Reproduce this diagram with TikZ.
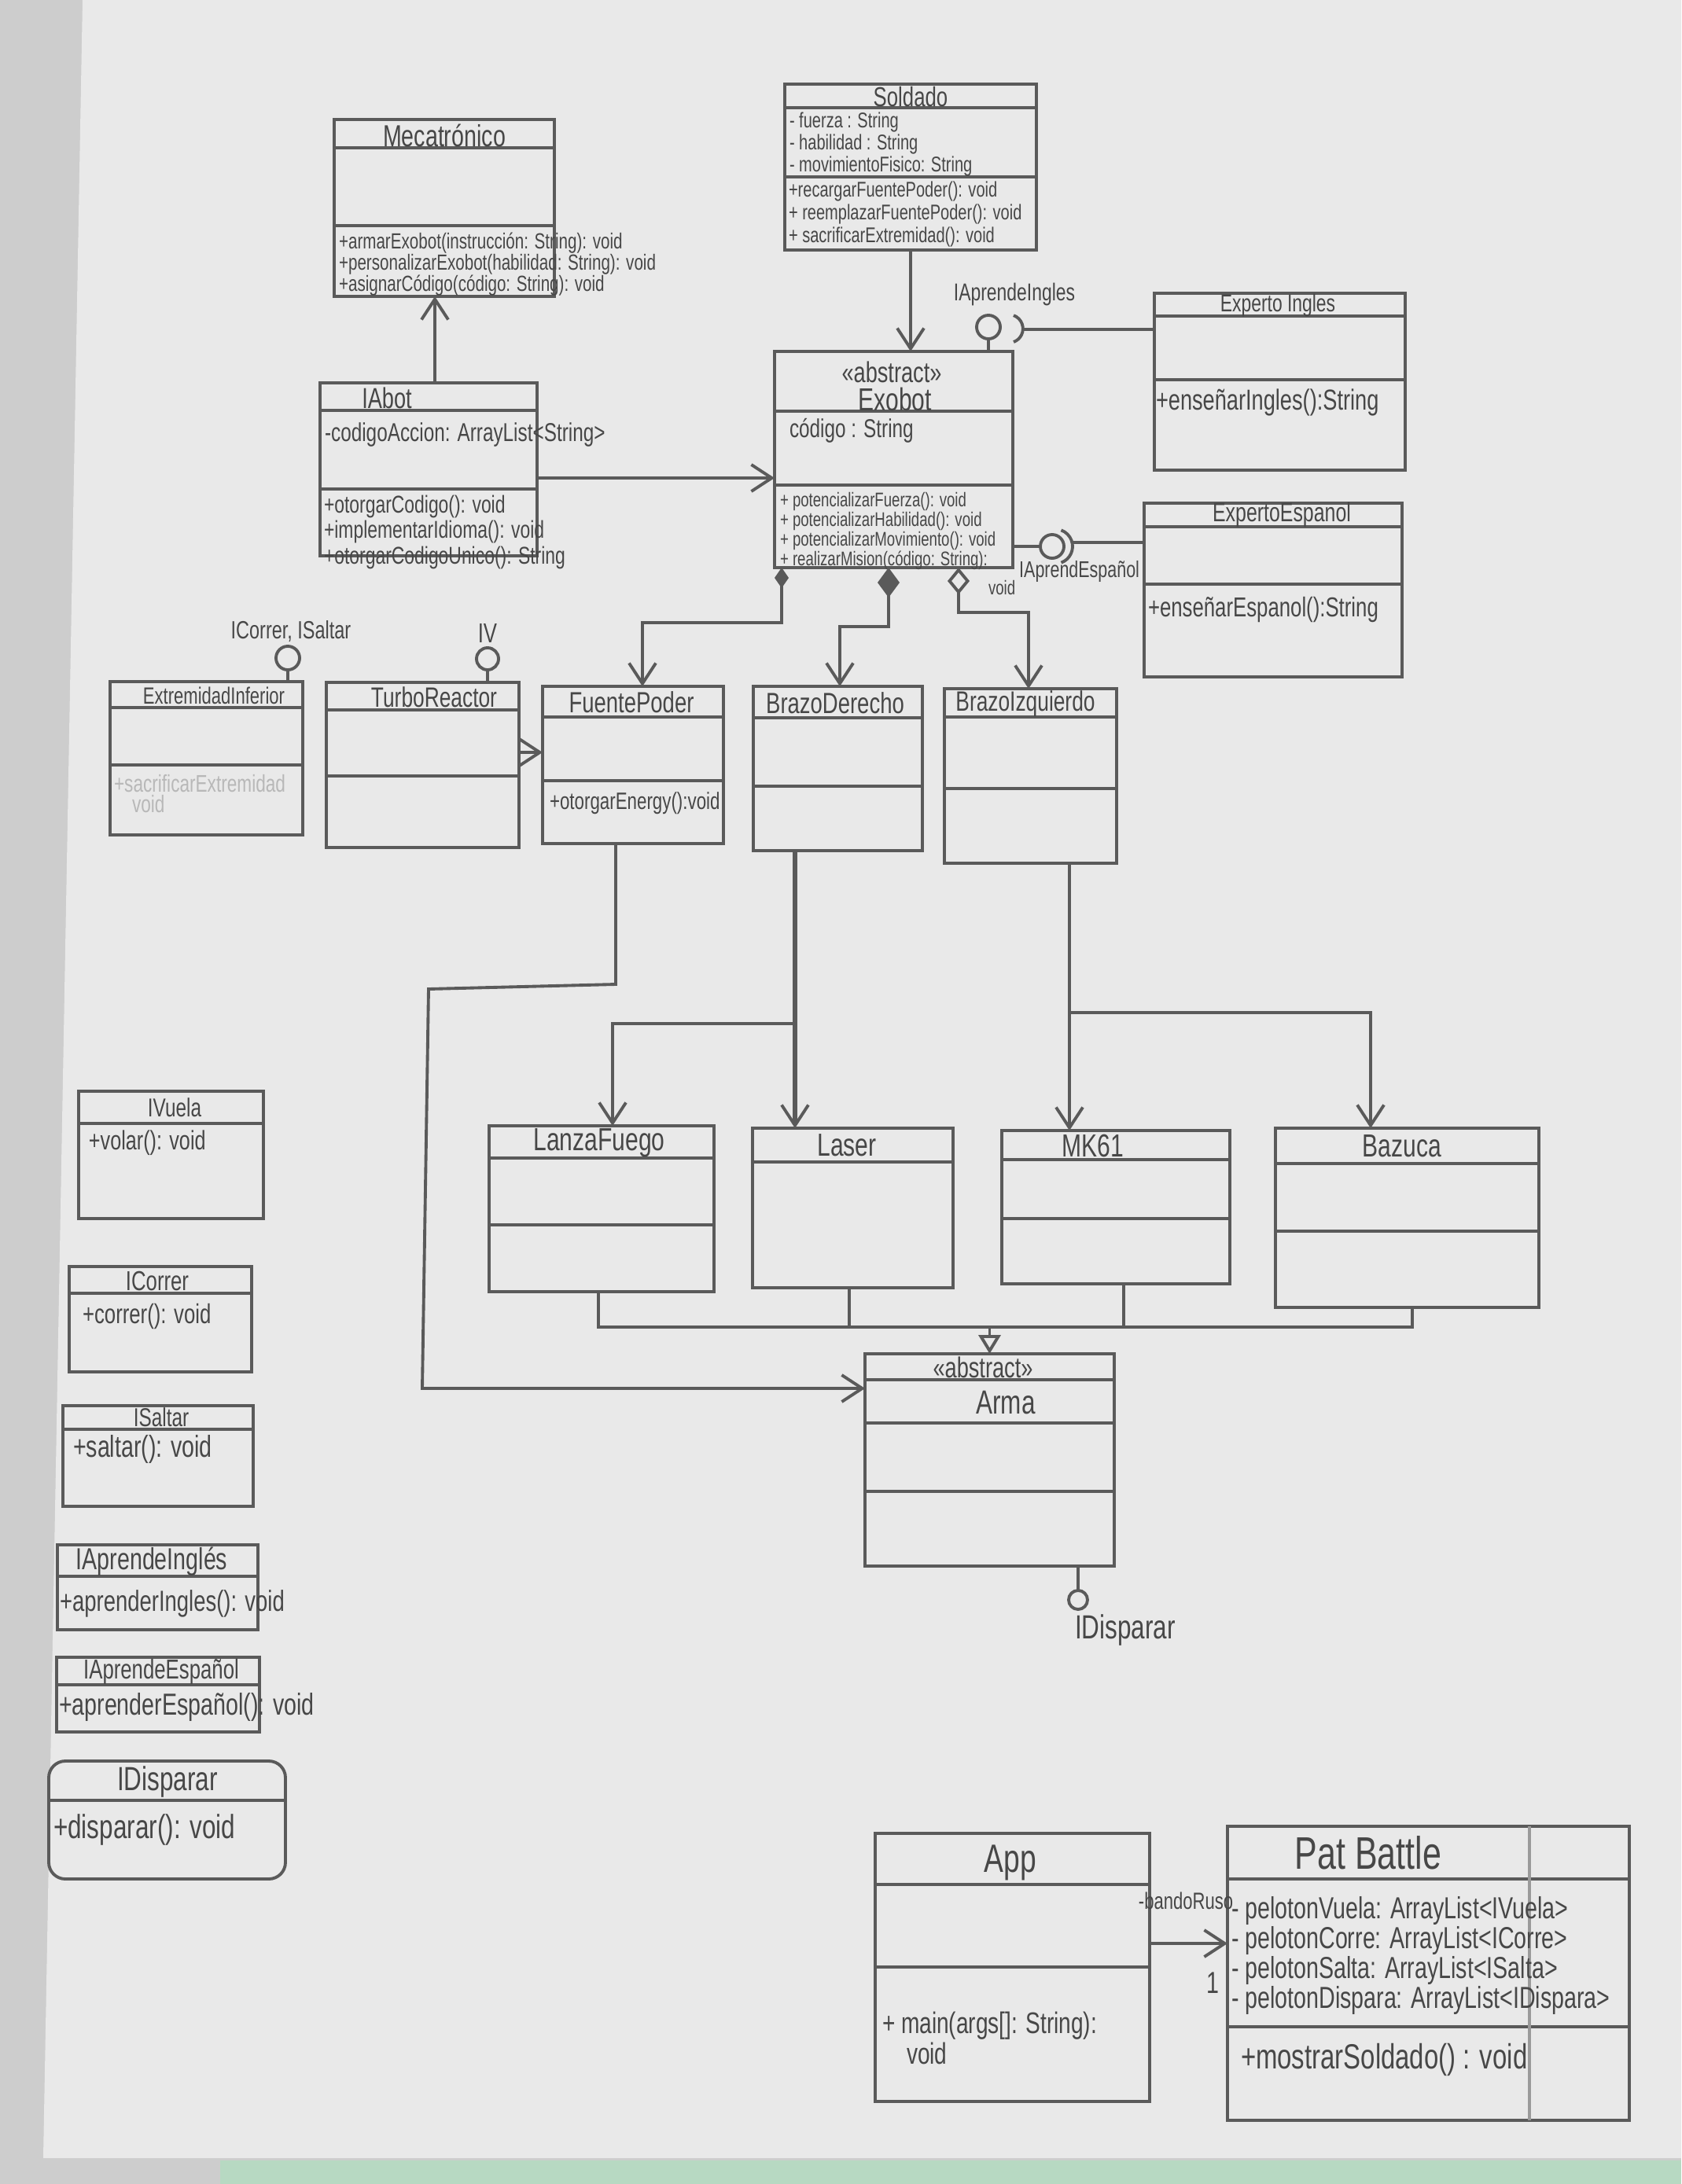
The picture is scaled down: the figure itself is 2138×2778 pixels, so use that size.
\documentclass[tikz,border=0pt]{standalone}
\usepackage{fontspec}
\setmainfont{Liberation Sans}[FakeStretch=0.74]
\usetikzlibrary{arrows.meta}
\definecolor{pencil}{HTML}{5A5A5A}
\definecolor{ink}{HTML}{474747}
\definecolor{paper}{HTML}{E9E9E9}
\definecolor{edge}{HTML}{CDCDCD}
\definecolor{mint}{HTML}{B7D9C2}
\newcommand\myfs[2]{\fontsize{\fpeval{1.1*#1}}{#2}\selectfont}
\newcommand\umlbox[6][]{\node[box,#1,minimum width={(#5-#3)*0.01cm},minimum height={(#6-#4)*0.01cm}] (#2) at (#3,#4) {};}
\newcommand\compline[2]{\draw[ln] (#1.west |- 0,#2) -- (#1.east |- 0,#2);}
\begin{document}
\begin{tikzpicture}[x=0.01cm,y=-0.01cm,
  ln/.style={draw=pencil,line width=1.1pt},
  box/.style={ln,rectangle,inner sep=0pt,outer sep=0pt,anchor=north west},
  txt/.style={text=ink,inner sep=0pt,outer sep=0pt},
  faded/.style={text=ink!30!paper,inner sep=0pt,outer sep=0pt},
  lolli/.style={ln,circle,inner sep=0pt,outer sep=0pt},
  arr/.style={ln,-{Straight Barb[length=2.6mm,width=3.4mm,line width=1.1pt]}},
  gen/.style={ln,-{Triangle[open,length=2.4mm,width=2.8mm,fill=paper]}},
  dmdA/.style={ln,{Diamond[fill=pencil,length=2.6mm,width=1.8mm]}-{Straight Barb[length=2.6mm,width=3.4mm,line width=1.1pt]}},
  dmdB/.style={ln,{Diamond[fill=pencil,length=3.8mm,width=2.8mm]}-{Straight Barb[length=2.6mm,width=3.4mm,line width=1.1pt]}},
  dmdC/.style={ln,{Diamond[open,fill=paper,length=3.4mm,width=2.8mm]}-{Straight Barb[length=2.6mm,width=3.4mm,line width=1.1pt]}}
]
\useasboundingbox (0,0) rectangle (2138,2778);
\fill[edge] (0,0) rectangle (2138,2778);
\fill[paper] (105,0) -- (2138,0) -- (2138,2745) -- (55,2745) -- cycle;
\fill[mint] (280,2748) rectangle (2138,2778);

% ---------------- Mecatronico
\umlbox{meca}{425}{152}{705}{377}
\compline{meca}{188}\compline{meca}{287}
\node[txt,font={\myfs{10}{12}}] (meca-t) at (565,172) {Mecatrónico};
\node[txt,anchor=north west,align=left,font={\myfs{7.2}{7.7}}] (meca-m) at (431,296)
  {+armarExobot(instrucción: String): void\\+personalizarExobot(habilidad: String): void\\+asignarCódigo(código: String): void};

% ---------------- Soldado
\umlbox{sold}{998}{107}{1318}{318}
\compline{sold}{137}\compline{sold}{225}
\node[txt,font={\myfs{9}{11}}] (sold-t) at (1158,123) {Soldado};
\node[txt,anchor=north west,align=left,font={\myfs{7}{8}}] (sold-a) at (1004,143)
  {- fuerza : String\\- habilidad : String\\- movimientoFisico: String};
\node[txt,anchor=north west,align=left,font={\myfs{7}{7.1}}] (sold-m) at (1003,231)
  {+recargarFuentePoder(): void\\+ reemplazarFuentePoder(): void\\+ sacrificarExtremidad(): void};

% ---------------- IAbot
\umlbox{iabot}{407}{487}{683}{707}
\compline{iabot}{522}\compline{iabot}{622}
\node[txt,font={\myfs{9.5}{12}}] (iabot-t) at (492,506) {IAbot};
\node[txt,anchor=west,font={\myfs{8.5}{10}}] (iabot-a) at (413,553) {-codigoAccion: ArrayList<String>};
\node[txt,anchor=north west,align=left,font={\myfs{8}{7.7}}] (iabot-m) at (412,630)
  {+otorgarCodigo(): void\\+implementarIdioma(): void\\+otorgarCodigoUnico(): String};

% ---------------- Exobot
\umlbox{exo}{985}{447}{1288}{722}
\compline{exo}{523}\compline{exo}{617}
\node[txt,font={\myfs{9.5}{12}}] (exo-s) at (1134,473) {<<abstract>>};
\node[txt,font={\myfs{10.5}{12}}] (exo-t) at (1138,508) {Exobot};
\node[txt,anchor=west,font={\myfs{8.5}{10}}] (exo-a) at (1004,548) {código : String};
\node[txt,anchor=north west,align=left,font={\myfs{6.5}{7.1}}] (exo-m) at (992,626)
  {+ potencializarFuerza(): void\\+ potencializarHabilidad(): void\\+ potencializarMovimiento(): void\\+ realizarMision(código: String):};
\node[txt,anchor=west,font={\myfs{6.5}{7.1}}] (exo-v) at (1257,748) {void};

% ---------------- Experto Ingles
\umlbox{ei}{1468}{373}{1787}{598}
\compline{ei}{402}\compline{ei}{483}
\node[txt,font={\myfs{8}{10}}] (ei-t) at (1625,388) {Experto Ingles};
\node[txt,anchor=west,font={\myfs{9.5}{11}}] (ei-m) at (1470,512) {+enseñarIngles():String};

% ---------------- Experto Espanol
\umlbox{ee}{1455}{640}{1783}{861}
\compline{ee}{670}\compline{ee}{743}
\node[txt,font={\myfs{8.7}{11}}] (ee-t) at (1630,655) {ExpertoEspanol};
\node[txt,anchor=west,font={\myfs{9}{11}}] (ee-m) at (1460,775) {+enseñarEspanol():String};

% interfaces of Exobot
\node[lolli,minimum size=0.3cm] (lpi) at (1257,416) {};
\draw[ln] (lpi.south) -- (exo.north -| lpi.south);
\draw[ln] (1289,435) arc[start angle=70,end angle=-70,radius=18];
\coordinate (sk1) at (1301,419);
\draw[ln] (sk1) -- (ei.west |- sk1);
\node[txt,font={\myfs{8}{10}}] (lpi-l) at (1290,374) {IAprendeIngles};

\node[lolli,minimum size=0.3cm] (lpe) at (1338,695) {};
\draw[ln] (exo.east |- lpe.west) -- (lpe.west);
\draw[ln] (1349.5,715.7) arc[start angle=70,end angle=-70,radius=22];
\coordinate (sk2) at (1364,690);
\draw[ln] (sk2) -- (ee.west |- sk2);
\node[txt,anchor=east,font={\myfs{7.5}{9}}] (lpe-l) at (1449,727) {IAprendEspañol};

% relations of top part
\draw[arr] (sold.south) -- (exo.north -| sold.south);
\draw[arr] (iabot.north -| 553,0) -- (meca.south -| 553,0);
\draw[arr] (iabot.east |- 0,608) -- (exo.west |- 0,608);

% ---------------- middle row
\umlbox{ext}{140}{867}{385}{1062}
\compline{ext}{900}\compline{ext}{973}
\node[txt,font={\myfs{7.7}{9}}] (ext-t) at (272,885) {ExtremidadInferior};
\node[faded,anchor=west,font={\myfs{7.9}{9}}] (ext-m) at (145,997) {+sacrificarExtremidad};
\node[faded,anchor=west,font={\myfs{7.9}{9}}] (ext-v) at (168,1023) {void};
\node[lolli,minimum size=0.3cm] (lx) at (366,837) {};
\draw[ln] (lx.south) -- (ext.north -| lx.south);
\node[txt,font={\myfs{8.2}{10}}] (lx-l) at (370,803) {ICorrer, ISaltar};

\umlbox{tr}{415}{868}{660}{1078}
\compline{tr}{903}\compline{tr}{987}
\node[txt,font={\myfs{9.2}{11}}] (tr-t) at (552,887) {TurboReactor};
\node[lolli,minimum size=0.28cm] (lt) at (620,838) {};
\draw[ln] (lt.south) -- (tr.north -| lt.south);
\node[txt,font={\myfs{9}{11}}] (lt-l) at (620,806) {IV};

\umlbox{fp}{690}{873}{920}{1073}
\compline{fp}{912}\compline{fp}{993}
\node[txt,font={\myfs{9.6}{12}}] (fp-t) at (803,893) {FuentePoder};
\node[txt,anchor=west,font={\myfs{7.8}{9}}] (fp-m) at (699,1022) {+otorgarEnergy():void};

\umlbox{bd}{958}{873}{1173}{1082}
\compline{bd}{913}\compline{bd}{1000}
\node[txt,font={\myfs{9.6}{12}}] (bd-t) at (1062,894) {BrazoDerecho};

\umlbox{bi}{1201}{876}{1420}{1098}
\compline{bi}{912}\compline{bi}{1003}
\node[txt,font={\myfs{9.2}{11}}] (bi-t) at (1304,895) {BrazoIzquierdo};

\draw[arr] (tr.east |- 0,957) -- (fp.west |- 0,957);

% aggregation / composition from Exobot
\draw[dmdA] (exo.south -| 994,0) -- (994,792) -| (fp.north -| 817,0);
\draw[dmdB] (exo.south -| 1130,0) -- (1130,797) -| (bd.north -| 1068,0);
\draw[dmdC] (exo.south -| 1219,0) -- (1219,779) -| (bi.north -| 1308,0);

% ---------------- weapons
\umlbox{lf}{622}{1432}{908}{1643}
\compline{lf}{1473}\compline{lf}{1558}
\node[txt,font={\myfs{10.5}{13}}] (lf-t) at (762,1454) {LanzaFuego};

\umlbox{las}{957}{1435}{1212}{1638}
\compline{las}{1478}
\node[txt,font={\myfs{10.5}{13}}] (las-t) at (1077,1457) {Laser};

\umlbox{mk}{1274}{1438}{1564}{1633}
\compline{mk}{1475}\compline{mk}{1550}
\node[txt,font={\myfs{10.5}{13}}] (mk-t) at (1390,1457) {MK61};

\umlbox{baz}{1622}{1435}{1957}{1663}
\compline{baz}{1480}\compline{baz}{1566}
\node[txt,font={\myfs{10.5}{13}}] (baz-t) at (1783,1458) {Bazuca};

\coordinate (j1) at (1011,1302);
\coordinate (j2) at (1360,1288);
\draw[arr,line width=1.6pt] (bd.south -| j1) -- (las.north -| j1);
\draw[arr] (j1) -| (lf.north -| 779,0);
\draw[arr] (bi.south -| j2) -- (mk.north -| j2);
\draw[arr] (j2) -| (baz.north -| 1743,0);

% ---------------- Arma
\umlbox{arma}{1100}{1722}{1417}{1992}
\compline{arma}{1755}\compline{arma}{1810}\compline{arma}{1897}
\node[txt,font={\myfs{9.5}{12}}] (arma-s) at (1250,1739) {<<abstract>>};
\node[txt,font={\myfs{11}{13}}] (arma-t) at (1279,1784) {Arma};
\node[lolli,minimum size=0.24cm] (la) at (1371,2035) {};
\draw[ln] (arma.south -| la.north) -- (la.north);
\node[txt,font={\myfs{11}{13}}] (la-l) at (1431,2073) {IDisparar};

\draw[ln] (lf.south -| 761,0) |- (1796,1688) -- (baz.south -| 1796,0);
\draw[ln] (las.south -| 1080,0) -- (1080,1688);
\draw[ln] (mk.south -| 1429,0) -- (1429,1688);
\draw[gen] (arma.north |- 0,1688) -- (arma.north);

\draw[arr] (fp.south -| 783,0) -- (783,1252) -- (545,1258) -- (537,1766) -- (arma.west |- 0,1766);

% ---------------- left interfaces
\umlbox{ivu}{100}{1388}{335}{1550}
\compline{ivu}{1429}
\node[txt,font={\myfs{8.5}{10}}] (ivu-t) at (222,1409) {IVuela};
\node[txt,anchor=west,font={\myfs{8.8}{10}}] (ivu-m) at (113,1454) {+volar(): void};

\umlbox{ico}{88}{1611}{320}{1745}
\compline{ico}{1645}
\node[txt,font={\myfs{9}{11}}] (ico-t) at (200,1629) {ICorrer};
\node[txt,anchor=west,font={\myfs{9}{11}}] (ico-m) at (105,1674) {+correr(): void};

\umlbox{isa}{80}{1788}{322}{1916}
\compline{isa}{1818}
\node[txt,font={\myfs{8.5}{11}}] (isa-t) at (205,1803) {ISaltar};
\node[txt,anchor=west,font={\myfs{10}{12}}] (isa-m) at (93,1843) {+saltar(): void};

\umlbox{iai}{73}{1965}{328}{2073}
\compline{iai}{2005}
\node[txt,font={\myfs{10}{12}}] (iai-t) at (193,1986) {IAprendeInglés};
\node[txt,anchor=west,font={\myfs{9.6}{11}}] (iai-m) at (76,2040) {+aprenderIngles(): void};

\umlbox{iae}{72}{2108}{330}{2203}
\compline{iae}{2143}
\node[txt,font={\myfs{9}{11}}] (iae-t) at (205,2126) {IAprendeEspañol};
\node[txt,anchor=west,font={\myfs{10}{12}}] (iae-m) at (75,2171) {+aprenderEspañol(): void};

\umlbox[rounded corners=6pt]{idi}{62}{2240}{363}{2390}
\compline{idi}{2290}
\node[txt,font={\myfs{11}{13}}] (idi-t) at (213,2266) {IDisparar};
\node[txt,anchor=west,font={\myfs{11}{13}}] (idi-m) at (68,2327) {+disparar(): void};

% ---------------- App / PatBattle
\umlbox{app}{1113}{2332}{1462}{2673}
\compline{app}{2397}\compline{app}{2502}
\node[txt,font={\myfs{13}{15}}] (app-t) at (1285,2369) {App};
\node[txt,anchor=west,font={\myfs{9.8}{11}}] (app-m) at (1122,2577) {+ main(args[]: String):};
\node[txt,anchor=west,font={\myfs{9.8}{11}}] (app-v) at (1153,2612) {void};

\umlbox{pb}{1561}{2323}{2072}{2697}
\compline{pb}{2390}\compline{pb}{2578}
\draw[ln,draw=pencil!55!paper] (pb.north -| 1945,0) -- (pb.south -| 1945,0);
\node[txt,font={\myfs{15}{17}}] (pb-t) at (1740,2357) {Pat Battle};
\node[txt,anchor=north west,align=left,font={\myfs{10}{10.8}}] (pb-a) at (1566,2412)
  {- pelotonVuela: ArrayList<IVuela>\\- pelotonCorre: ArrayList<ICorre>\\- pelotonSalta: ArrayList<ISalta>\\- pelotonDispara: ArrayList<IDispara>};
\node[txt,anchor=west,font={\myfs{11.5}{13}}] (pb-m) at (1578,2620) {+mostrarSoldado() : void};

\draw[arr] (app.east |- 0,2472) -- (pb.west |- 0,2472);
\node[txt,font={\myfs{7.7}{9}}] (ab-l) at (1508,2418) {-bandoRuso};
\node[txt,font={\myfs{10}{12}}] (ab-m) at (1542,2522) {1};
\end{tikzpicture}
\end{document}
